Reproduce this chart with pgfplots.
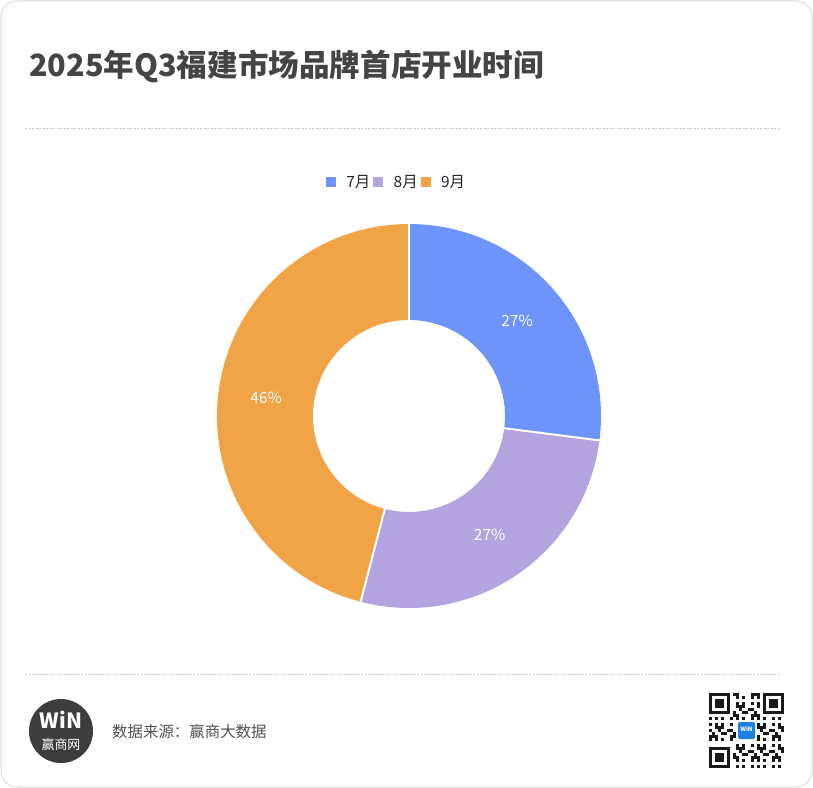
\documentclass[border=0pt]{standalone}
\usepackage{fontspec}
\setmainfont{Noto Sans CJK SC}
\usepackage{pgfplots}
\pgfplotsset{compat=1.18}
\definecolor{c7}{HTML}{6E94FC}
\definecolor{c8}{HTML}{B3A3DF}
\definecolor{c9}{HTML}{F0A445}
\definecolor{txt}{HTML}{444444}
\definecolor{qrblue}{HTML}{1E7FE0}
\pgfplotsset{sq/.style={legend image code/.code={\fill[#1] (0bp,-4.5bp) rectangle (9bp,4.5bp);}}}
% data: brand first stores opened per month (share)
\def\va{10}\def\vb{10}\def\vc{17}
\pgfmathsetmacro\total{\va+\vb+\vc}
\pgfmathsetmacro\aA{90}
\pgfmathsetmacro\aB{\aA-360*\va/\total}
\pgfmathsetmacro\aC{\aB-360*\vb/\total}
\pgfmathsetmacro\aD{\aC-360*\vc/\total}
\pgfmathsetmacro\mA{(\aA+\aB)/2}
\pgfmathsetmacro\mB{(\aB+\aC)/2}
\pgfmathsetmacro\mC{(\aC+\aD)/2}
\def\ro{192}\def\ri{96}
\begin{document}
\begin{tikzpicture}[x=1bp,y=-1bp]
\useasboundingbox (0,0) rectangle (813,788);
\draw[rounded corners=16bp, draw=black!14, line width=1bp] (1,1) rectangle (812,787);
\node[anchor=base west, font=\fontsize{30.7}{31}\selectfont\bfseries, text=txt, inner sep=0] at (29,77) {2025年Q3福建市场品牌首店开业时间};
\draw[black!22, line width=0.8bp, dash pattern=on 2bp off 1.5bp] (25,128) -- (781,128);
\draw[black!22, line width=0.8bp, dash pattern=on 2bp off 1.5bp] (25,674) -- (781,674);
\coordinate (ctr) at (409,416);

\begin{axis}[at={(ctr)}, anchor=origin, x=1bp, y=1bp,
  xmin=-200, xmax=200, ymin=-200, ymax=200, hide axis, clip=false,
  legend columns=3,
  legend style={at={(axis description cs:0.4675,1.085)}, anchor=center, draw=none, fill=none,
    font=\fontsize{15.5}{15.5}\selectfont, text=black!85, inner sep=0pt,
    nodes={inner sep=1bp},
    /tikz/every odd column/.append style={column sep=10bp},
    /tikz/every even column/.append style={column sep=2bp}},
  ]
\addlegendimage{sq=c7}
\addlegendentry{7月}
\addlegendimage{sq=c8}
\addlegendentry{8月}
\addlegendimage{sq=c9}
\addlegendentry{9月}

\fill[c7] (axis cs:{\ro*cos(\aA)},{\ro*sin(\aA)}) arc[start angle=\aA, end angle=\aB, radius=\ro bp]
   -- (axis cs:{\ri*cos(\aB)},{\ri*sin(\aB)}) arc[start angle=\aB, end angle=\aA, radius=\ri bp] -- cycle;
\fill[c8] (axis cs:{\ro*cos(\aB)},{\ro*sin(\aB)}) arc[start angle=\aB, end angle=\aC, radius=\ro bp]
   -- (axis cs:{\ri*cos(\aC)},{\ri*sin(\aC)}) arc[start angle=\aC, end angle=\aB, radius=\ri bp] -- cycle;
\fill[c9] (axis cs:{\ro*cos(\aC)},{\ro*sin(\aC)}) arc[start angle=\aC, end angle=\aD, radius=\ro bp]
   -- (axis cs:{\ri*cos(\aD)},{\ri*sin(\aD)}) arc[start angle=\aD, end angle=\aC, radius=\ri bp] -- cycle;
\draw[white, line width=2bp] (axis cs:{(\ri-1)*cos(\aA)},{(\ri-1)*sin(\aA)}) -- (axis cs:{(\ro+1)*cos(\aA)},{(\ro+1)*sin(\aA)});
\draw[white, line width=2bp] (axis cs:{(\ri-1)*cos(\aB)},{(\ri-1)*sin(\aB)}) -- (axis cs:{(\ro+1)*cos(\aB)},{(\ro+1)*sin(\aB)});
\draw[white, line width=2bp] (axis cs:{(\ri-1)*cos(\aC)},{(\ri-1)*sin(\aC)}) -- (axis cs:{(\ro+1)*cos(\aC)},{(\ro+1)*sin(\aC)});
\node[text=white, font=\fontsize{15.5}{15.5}\selectfont] at (axis cs:{144*cos(\mA)},{144*sin(\mA)}) {27\%};
\node[text=white, font=\fontsize{15.5}{15.5}\selectfont] at (axis cs:{144*cos(\mB)},{144*sin(\mB)}) {27\%};
\node[text=white, font=\fontsize{15.5}{15.5}\selectfont] at (axis cs:{144*cos(\mC)},{144*sin(\mC)}) {46\%};
\end{axis}

% footer logo
\fill[black!76] (61,731) circle (32bp);
\node[text=white, font=\fontsize{21}{21}\selectfont\bfseries, inner sep=0] at (61,720) {WiN};
\node[text=white, font=\fontsize{13}{13}\selectfont, inner sep=0] at (61,745) {赢商网};
\node[anchor=west, text=black!68, font=\fontsize{15.5}{15.5}\selectfont, inner sep=0] at (112,732) {数据来源：赢商大数据};

% QR-like code
\begin{scope}[shift={(709,693)}]
  \foreach \i in {0,...,24}{
    \foreach \j in {0,...,24}{
      \pgfmathtruncatemacro\bit{mod(\i*\i*7+\j*\j*5+\i*\j*3+\i+2*\j,7)<3 ? 1 : 0}
      \pgfmathtruncatemacro\infa{(\i<8 && \j<8) || (\i>16 && \j<8) || (\i<8 && \j>16) || (\i>8 && \i<16 && \j>8 && \j<16) ? 1 : 0}
      \ifnum\bit=1 \ifnum\infa=0 \fill[black!90] (3*\i,3*\j) rectangle ++(3,3); \fi\fi
    }
  }
  \foreach \ox/\oy in {0/0, 54/0, 0/54}{
    \fill[black!90] (\ox,\oy) rectangle ++(21,21);
    \fill[white] (\ox+3,\oy+3) rectangle ++(15,15);
    \fill[black!90] (\ox+6,\oy+6) rectangle ++(9,9);
  }
  \fill[white] (27,27) rectangle ++(21,21);
  \fill[qrblue, rounded corners=1.5bp] (29,29) rectangle ++(17,17);
  \node[text=white, font=\fontsize{6}{6}\selectfont\bfseries, inner sep=0] at (37.5,36) {WiN};
\end{scope}
\end{tikzpicture}
\end{document}
